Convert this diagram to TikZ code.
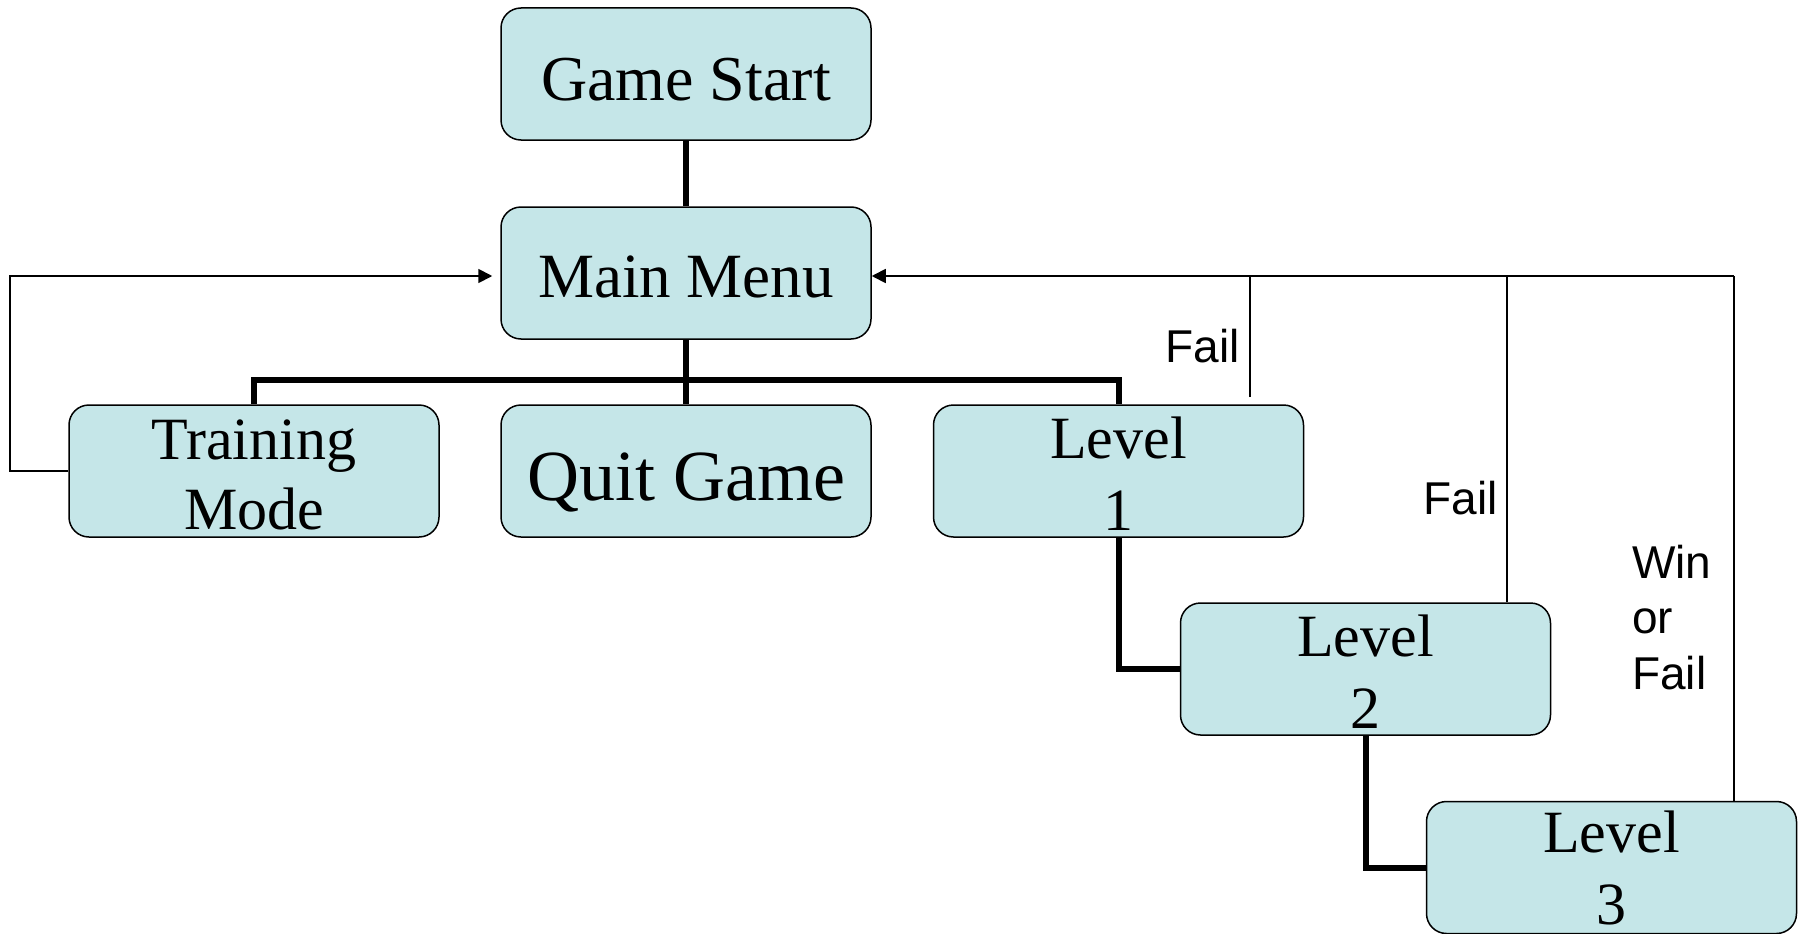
\documentclass[tikz,border=0pt]{standalone}
\usepackage{fontspec}
\setmainfont{Liberation Serif}
\newfontfamily\labelfont{Liberation Sans}
\usetikzlibrary{arrows.meta}
\definecolor{boxfill}{RGB}{197,230,232}
\newcommand{\topstrut}{\rule{0pt}{47pt}}
\begin{document}
\begin{tikzpicture}[x=1pt,y=-1pt,
  box/.style={draw=black, line width=1.5pt, fill=boxfill, rounded corners=20pt,
    minimum width=370pt, minimum height=132pt, inner sep=0pt, align=center},
  twoline/.style={font=\fontsize{60}{72}\selectfont},
  thickline/.style={line width=6pt},
  retline/.style={line width=1.8pt},
  failline/.style={line width=1.2pt},
  arrowend/.style={-{Triangle[length=14pt,width=14pt]}},
  lbl/.style={font=\labelfont\fontsize{46}{55.5}\selectfont, inner sep=0pt, align=left}
]
\useasboundingbox (0,0) rectangle (1805,934);
\fill[white] (0,0) rectangle (1805,934);

% boxes
\node[box, font=\fontsize{64}{70}\selectfont, text height=52pt, text depth=0pt] (GS) at (686,74) {Game Start};
\node[box, font=\fontsize{63}{70}\selectfont, text height=49pt, text depth=0pt] (MM) at (686,273) {Main Menu};
\node[box, font=\fontsize{60}{70}\selectfont] (TM) at (254,471) {\topstrut Training\\Mode};
\node[box, font=\fontsize{72}{80}\selectfont, text height=58pt, text depth=0pt] (QG) at (686,471) {Quit Game};
\node[box, twoline] (L1) at (1118.5,471) {\topstrut Level\\1};
\node[box, twoline] (L2) at (1365.5,669) {\topstrut Level\\2};
\node[box, twoline] (L3) at (1611.5,867.5) {Level\\3};

% tree connectors
\draw[thickline] (GS.south) -- (MM.north);
\draw[thickline] (MM.south) -- (QG.north);
\draw[thickline] (TM.north) -- ++(0,-24) -| (L1.north);
\draw[thickline] (L1.south) |- (L2.west);
\draw[thickline] (L2.south) |- (L3.west);

% return arrows
\coordinate (mmR) at ([yshift=-3pt]MM.east);
\coordinate (mmL) at ([yshift=-3pt,xshift=-8pt]MM.west);
\coordinate (lx) at (10,276);
\draw[retline, arrowend] (TM.west) -| (lx) -- (mmL);

\coordinate (c1) at (1250,276);
\coordinate (c2) at (1507,276);
\coordinate (c3) at (1734,276);
\coordinate (c1b) at (1250,397);
\draw[retline, arrowend] (c3) -- (mmR);
\draw[failline] (c1b) -- (c1);
\draw[failline] (L2.north -| c2) -- (c2);
\draw[failline] (L3.north -| c3) -- (c3);

% labels
\node[lbl, anchor=south east] (f1) at (1240,363) {Fail};
\node[lbl, anchor=south east] (f2) at (1498,515) {Fail};
\node[lbl, anchor=south west] (wf) at (1632,690) {Win\\or\\Fail};
\end{tikzpicture}
\end{document}
